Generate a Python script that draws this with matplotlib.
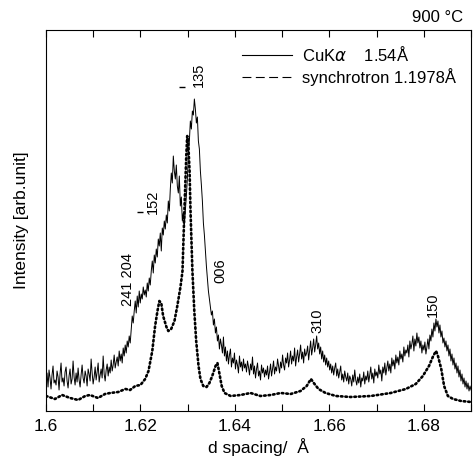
import numpy as np
import matplotlib
matplotlib.use('Agg')
import matplotlib.pyplot as plt
from matplotlib.lines import Line2D

plt.rcParams['font.family'] = ['Liberation Sans', 'DejaVu Sans']

# CuK alpha (lab) pattern, evenly sampled in d spacing
cuk_d = np.linspace(1.6, 1.69, 425)
cuk_int = [
    30, 38, 24, 41, 33, 22, 36, 45, 28, 31,
    26, 40, 34, 21, 37, 48, 29, 33, 25, 39,
    44, 30, 23, 35, 42, 27, 32, 50, 34, 26,
    38, 29, 43, 31, 24, 36, 46, 33, 28, 40,
    35, 25, 42, 37, 30, 52, 38, 27, 34, 44,
    31, 39, 48, 29, 36, 42, 33, 55, 37, 30,
    41, 47, 35, 44, 38, 51, 40, 46, 56, 43,
    49, 54, 45, 60, 50, 57, 48, 63, 55, 66,
    58, 70, 64, 75, 68, 82, 95, 88, 100, 110,
    98, 115, 104, 120, 108, 117, 112, 124, 116, 121,
    114, 128, 120, 133, 126, 140, 150, 138, 156, 148,
    162, 154, 172, 165, 178, 160, 183, 176, 190, 182,
    196, 188, 210, 200, 222, 238, 228, 255, 240, 232,
    246, 225, 218, 235, 205, 214, 190, 198, 186, 200,
    215, 232, 258, 270, 290, 282, 300, 296, 312, 302,
    288, 294, 270, 262, 240, 226, 210, 188, 176, 160,
    145, 132, 120, 112, 104, 96, 100, 86, 92, 78,
    84, 70, 76, 62, 72, 66, 58, 74, 55, 64,
    50, 60, 47, 56, 62, 44, 53, 48, 58, 42,
    51, 46, 38, 55, 44, 49, 40, 52, 43, 47,
    39, 50, 44, 36, 47, 41, 54, 37, 45, 33,
    42, 48, 35, 40, 31, 46, 38, 43, 34, 41,
    36, 45, 32, 39, 47, 35, 42, 50, 37, 44,
    40, 52, 45, 38, 49, 43, 56, 46, 41, 53,
    48, 58, 44, 51, 60, 47, 55, 50, 63, 45,
    54, 61, 49, 57, 66, 52, 59, 48, 62, 55,
    58, 65, 51, 60, 70, 56, 63, 72, 59, 66,
    75, 62, 68, 57, 64, 52, 60, 49, 56, 46,
    53, 44, 50, 41, 47, 38, 45, 36, 43, 48,
    35, 42, 33, 39, 45, 31, 37, 29, 40, 34,
    30, 38, 27, 35, 32, 25, 36, 29, 41, 31,
    26, 34, 28, 37, 24, 33, 30, 39, 27, 35,
    31, 40, 29, 36, 44, 32, 38, 28, 42, 35,
    39, 33, 46, 37, 41, 30, 44, 38, 48, 36,
    43, 50, 40, 47, 38, 53, 45, 51, 42, 56,
    48, 54, 46, 60, 52, 57, 49, 64, 55, 61,
    58, 66, 54, 70, 62, 67, 75, 60, 72, 65,
    78, 68, 74, 63, 70, 58, 66, 61, 69, 57,
    64, 72, 62, 76, 70, 82, 74, 88, 80, 92,
    84, 90, 78, 86, 74, 80, 68, 73, 64, 70,
    60, 66, 55, 62, 50, 57, 46, 53, 42, 48,
    38, 45, 34, 41, 30, 37, 27, 33, 24, 30,
    22, 28, 20, 25, 21,
]

# synchrotron pattern
syn_d = [1.6000, 1.6019, 1.6034, 1.6051, 1.6068, 1.6083, 1.6093, 1.6110,
         1.6125, 1.6136, 1.6153, 1.6168, 1.6178, 1.6189, 1.6200, 1.6210,
         1.6217, 1.6221, 1.6225, 1.6231, 1.6236, 1.6240, 1.6244, 1.6248,
         1.6255, 1.6259, 1.6265, 1.6272, 1.6278, 1.6285, 1.6289, 1.6293,
         1.6297, 1.6299, 1.6301, 1.6304, 1.6306, 1.6310, 1.6314, 1.6318,
         1.6323, 1.6327, 1.6333, 1.6340, 1.6346, 1.6352, 1.6359, 1.6363,
         1.6367, 1.6372, 1.6378, 1.6391, 1.6412, 1.6433, 1.6454, 1.6476,
         1.6497, 1.6518, 1.6539, 1.6552, 1.6561, 1.6567, 1.6577, 1.6592,
         1.6614, 1.6645, 1.6688, 1.6730, 1.6762, 1.6783, 1.6798, 1.6811,
         1.6820, 1.6826, 1.6830, 1.6837, 1.6843, 1.6851, 1.6862, 1.6879,
         1.6900]
syn_int = [15, 12, 16, 13, 11, 15, 16, 13,
           17, 18, 19, 22, 21, 25, 26, 32,
           40, 50, 60, 85, 100, 110, 108, 95,
           84, 80, 82, 90, 105, 125, 140, 200,
           255, 275, 270, 240, 200, 140, 100, 70,
           45, 32, 25, 24, 28, 35, 45, 48,
           38, 25, 18, 15, 16, 18, 15, 16,
           18, 17, 20, 25, 32, 28, 22, 18,
           15, 14, 15, 18, 22, 27, 35, 45,
           55, 60, 55, 42, 25, 15, 12, 10,
           9]

# peak labels (hkl)
peak_labels = ['241 204', '152', '135', '006', '310', '150']
peak_d = [1.6174, 1.6227, 1.6323, 1.6369, 1.6575, 1.6820]
peak_y = [131, 209, 336, 140, 90, 106]

fig = plt.figure(figsize=(4.73, 4.59), dpi=100)
ax = fig.add_axes([0.0973, 0.1046, 0.8985, 0.83])

ax.plot(cuk_d, cuk_int, color='black', lw=0.7)
ax.plot(syn_d, syn_int, color='black', lw=1.9, ls=(0, (0.6, 1.1)),
        dash_capstyle='round')

for lab, d, y in zip(peak_labels, peak_d, peak_y):
    ax.text(d, y, lab, rotation=90, ha='center', va='center', fontsize=10.5)

# little bar markers next to labels
ax.plot([1.6200, 1.6289], [199, 324], ls='none', marker='_', ms=4,
        color='black', mew=1)

ax.set_xlim(1.6, 1.69)
ax.set_ylim(0, 381)
ax.set_xticks(np.arange(1.6, 1.6901, 0.01))
ax.set_xticklabels(['1.6', '', '1.62', '', '1.64', '', '1.66', '', '1.68', ''])
ax.set_yticks([])
ax.tick_params(axis='x', direction='in', top=True, length=5, labelsize=12.5, pad=6)
ax.set_xlabel('d spacing/  Å', fontsize=12.5, labelpad=3)
ax.set_ylabel('Intensity [arb.unit]', fontsize=12.5, labelpad=12)

handles = [Line2D([], [], color='black', lw=0.8),
           Line2D([], [], color='black', lw=0.8, ls=(0, (8, 4)))]
ax.legend(handles, ['CuK$\\alpha$    1.54Å', 'synchrotron 1.1978Å'],
          loc='upper right', bbox_to_anchor=(1.0, 1.0), frameon=False,
          fontsize=12, handlelength=3.0, handletextpad=0.6,
          labelspacing=0.25)

fig.text(0.98, 0.962, '900 °C', ha='right', va='center', fontsize=12)

fig.savefig('out.png', dpi=100)
